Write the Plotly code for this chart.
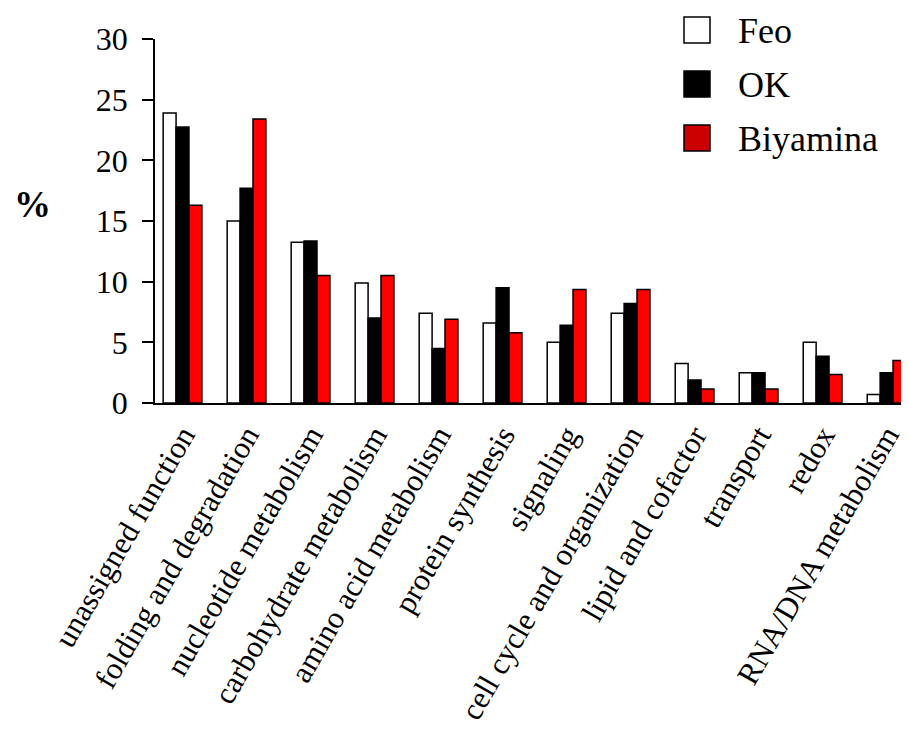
import plotly.graph_objects as go

categories = ["unassigned function", "folding and degradation", "nucleotide metabolism",
              "carbohydrate metabolism", "amino acid metabolism", "protein synthesis",
              "signaling", "cell cycle and organization", "lipid and cofactor",
              "transport", "redox", "RNA/DNA metabolism"]
feo = [23.9, 15.0, 13.25, 9.9, 7.4, 6.6, 5.0, 7.4, 3.25, 2.5, 5.0, 0.7]
ok = [22.75, 17.7, 13.35, 7.0, 4.5, 9.5, 6.4, 8.2, 1.9, 2.5, 3.85, 2.5]
biyamina = [16.3, 23.4, 10.5, 10.5, 6.9, 5.8, 9.35, 9.35, 1.15, 1.15, 2.35, 3.5]
series_names = ["Feo", "OK", "Biyamina"]
y_ticks = [0, 5, 10, 15, 20, 25, 30]

# page body offset of ~8px compensated
OFF = 8
W, H = 909 - OFF, 746 - OFF
L, R, T, B = 155 - OFF, 0, 39 - OFF, 343
FONT = "Liberation Serif"

fills = ["#ffffff", "#000000", "#ff0000"]
legend_fills = ["#ffffff", "#000000", "#cc0000"]

fig = go.Figure()
for name, vals, col in zip(series_names, [feo, ok, biyamina], fills):
    fig.add_trace(go.Bar(x=categories, y=vals, name=name,
                         marker=dict(color=col, line=dict(color="black", width=1.5)),
                         showlegend=False))

# convert target-picture pixels to paper coordinates
def px_x(px):
    return (px - OFF - L) / (W - L - R)

def px_y(py):
    return (H - B - (py - OFF)) / (H - T - B)

shapes = []
annotations = []
row_centers = [30, 84, 138]
for name, col, cy in zip(series_names, legend_fills, row_centers):
    shapes.append(dict(type="rect", xref="paper", yref="paper",
                       x0=px_x(684), x1=px_x(710), y0=px_y(cy + 13), y1=px_y(cy - 13),
                       fillcolor=col, line=dict(color="black", width=1.5)))
    annotations.append(dict(text=name, xref="paper", yref="paper",
                            x=px_x(736), y=px_y(cy + 1), xanchor="left", yanchor="middle",
                            showarrow=False, font=dict(family=FONT, size=36, color="black")))

annotations.append(dict(text="<b>%</b>", xref="paper", yref="paper",
                        x=px_x(33), y=px_y(204), xanchor="center", yanchor="middle",
                        showarrow=False, font=dict(family=FONT, size=37, color="black")))

fig.update_layout(
    width=W, height=H,
    margin=dict(l=L, r=R, t=T, b=B),
    paper_bgcolor="white", plot_bgcolor="white",
    barmode="group", bargap=0.395, bargroupgap=0,
    font=dict(family=FONT, color="black"),
    shapes=shapes, annotations=annotations,
    xaxis=dict(range=[-0.43, 11.35], showline=True, linecolor="black", linewidth=1.5,
               ticks="", showgrid=False, tickangle=-60,
               tickfont=dict(family=FONT, size=31, color="black")),
    yaxis=dict(range=[0, 30], tickvals=y_ticks, showline=True, linecolor="black",
               linewidth=1.5, ticks="outside", ticklen=11, tickwidth=1.5,
               tickcolor="black", showgrid=False, zeroline=False,
               ticklabelstandoff=8,
               tickfont=dict(family=FONT, size=32, color="black")),
)

fig.write_html("out.html")
